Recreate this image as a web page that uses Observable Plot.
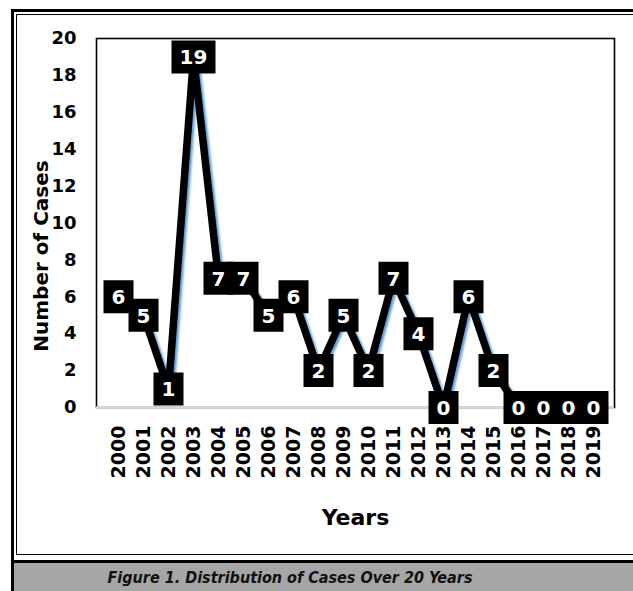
<!DOCTYPE html>
<html>
<head>
<meta charset="utf-8">
<script src="https://cdn.jsdelivr.net/npm/d3@7"></script>
<script src="https://cdn.jsdelivr.net/npm/@observablehq/plot@0.6"></script>
<style>
  html, body { margin: 0; padding: 0; background: #fff; }
  body { width: 633px; height: 591px; overflow: hidden; position: relative; }
  #outer { position: absolute; left: 11px; top: 9px; width: 700px; height: 554px; border: 3px solid #000; border-right: none; box-sizing: border-box; }
  #inner { position: absolute; left: 16px; top: 14px; width: 700px; height: 541px; border: 1px solid #000; border-right: none; box-sizing: border-box; }
  #band { position: absolute; left: 11px; top: 563px; width: 700px; height: 40px; background: #a6a6a6; border-left: 3px solid #000; box-sizing: border-box; }
  #caption { position: absolute; left: 0; top: 568px; width: 580px; text-align: center; font-family: "DejaVu Sans Condensed", "DejaVu Sans", sans-serif; font-weight: bold; font-style: italic; font-size: 16px; color: #111; }
  #chart { position: absolute; left: 0; top: 0; }
</style>
</head>
<body>
<div id="outer"></div>
<div id="inner"></div>
<div id="band"></div>
<div id="caption">Figure 1. Distribution of Cases Over 20 Years</div>
<div id="chart"></div>
<script>
const years = ["2000","2001","2002","2003","2004","2005","2006","2007","2008","2009",
               "2010","2011","2012","2013","2014","2015","2016","2017","2018","2019"];
const cases = [6, 5, 1, 19, 7, 7, 5, 6, 2, 5, 2, 7, 4, 0, 6, 2, 0, 0, 0, 0];
const yTicks = [0, 2, 4, 6, 8, 10, 12, 14, 16, 18, 20];
const xTitle = "Years";
const yTitle = "Number of Cases";

const data = years.map((year, i) => ({year, cases: cases[i], label: String(cases[i])}));

function boxSymbol(w, h) {
  return { draw(context) { context.rect(-w / 2, -h / 2, w, h); } };
}

const chart = Plot.plot({
  width: 633,
  height: 555,
  marginLeft: 96,
  marginRight: 19,
  marginTop: 38,
  marginBottom: 148,
  style: { background: "transparent", fontFamily: "DejaVu Sans, sans-serif", color: "#000", overflow: "visible" },
  x: { type: "point", domain: years, padding: 0.5 },
  y: { domain: [0, 20] },
  marks: [
    Plot.frame({ stroke: "#000", strokeWidth: 1.6 }),
    Plot.ruleY([0], { stroke: "#d9d9d9", strokeWidth: 2.5 }),
    Plot.axisY(yTicks, { tickSize: 0, tickPadding: 20, fontSize: 18, fontWeight: "bold", label: null }),
    Plot.axisX(years, { tickSize: 0, tickPadding: 18, tickRotate: -90, fontSize: 19, fontWeight: "bold", label: null }),
    Plot.line(data, { x: "year", y: "cases", stroke: "#5b9bd5", strokeWidth: 6, dx: 3, dy: 2, strokeLinejoin: "round" }),
    Plot.line(data, { x: "year", y: "cases", stroke: "#000", strokeWidth: 7.5, strokeLinejoin: "round", strokeLinecap: "butt" }),
    Plot.dot(data.filter(d => d.label.length === 1), { x: "year", y: "cases", symbol: boxSymbol(30, 33), r: 10, fill: "#000", stroke: null }),
    Plot.dot(data.filter(d => d.label.length > 1), { x: "year", y: "cases", symbol: boxSymbol(44, 33), r: 10, fill: "#000", stroke: null }),
    Plot.text(data, { x: "year", y: "cases", text: "label", fill: "#fff", fontSize: 20, fontWeight: "bold", dy: 1 }),
    Plot.text([yTitle], { frameAnchor: "left", textAnchor: "middle", lineAnchor: "middle", rotate: -90, dx: -55, dy: 33, fontSize: 20, fontWeight: "bold" }),
    Plot.text([xTitle], { frameAnchor: "bottom", textAnchor: "middle", lineAnchor: "middle", dy: 110, fontSize: 22, fontWeight: "bold" })
  ]
});

document.getElementById("chart").appendChild(chart);

// soft blur on the blue shadow line
const svg = chart.tagName.toLowerCase() === "svg" ? chart : chart.querySelector("svg");
const ns = "http://www.w3.org/2000/svg";
const defs = document.createElementNS(ns, "defs");
const filter = document.createElementNS(ns, "filter");
filter.setAttribute("id", "soft");
filter.setAttribute("x", "-10%"); filter.setAttribute("y", "-10%");
filter.setAttribute("width", "120%"); filter.setAttribute("height", "120%");
const blur = document.createElementNS(ns, "feGaussianBlur");
blur.setAttribute("stdDeviation", "1.2");
filter.appendChild(blur);
defs.appendChild(filter);
svg.insertBefore(defs, svg.firstChild);
const lines = svg.querySelectorAll('g[aria-label="line"]');
if (lines.length) lines[0].setAttribute("filter", "url(#soft)");
</script>
</body>
</html>
